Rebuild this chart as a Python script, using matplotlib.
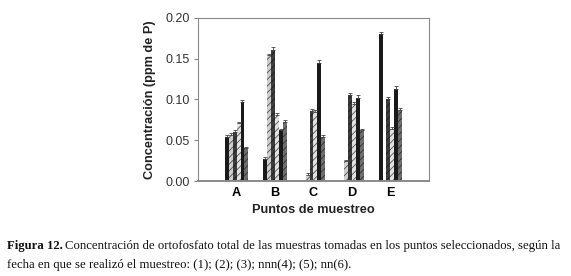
import numpy as np
import matplotlib
matplotlib.use("Agg")
import matplotlib.pyplot as plt

# ── Data ─────────────────────────────────────────────────
puntos = ["A", "B", "C", "D", "E"]
fecha1 = [0.054, 0.027, np.nan, np.nan, 0.180]
fecha2 = [0.057, 0.154, 0.008, 0.024, np.nan]
fecha3 = [0.060, 0.161, 0.086, 0.105, 0.100]
fecha4 = [0.071, 0.081, 0.085, 0.095, 0.064]
fecha5 = [0.097, 0.062, 0.145, 0.102, 0.113]
fecha6 = [0.040, 0.073, 0.054, 0.062, 0.087]
err1 = [0.002, 0.003, np.nan, np.nan, 0.003]
err2 = [0.002, 0.002, 0.002, 0.002, np.nan]
err3 = [0.002, 0.003, 0.002, 0.003, 0.003]
err4 = [0.002, 0.002, 0.002, 0.002, 0.002]
err5 = [0.002, 0.002, 0.003, 0.003, 0.003]
err6 = [0.002, 0.002, 0.002, 0.002, 0.002]

series = [fecha1, fecha2, fecha3, fecha4, fecha5, fecha6]
errors = [err1, err2, err3, err4, err5, err6]
fills = ["#1a1a1a", "#cfcfcf", "#3c3c3c", "#e2e2e2", "#1a1a1a", "#6e6e6e"]
hatches = [None, "/////", "/////", "/////", None, "/////"]
hatch_cols = [None, "#505050", "#1e1e1e", "#555555", None, "#333333"]

plt.rcParams["hatch.linewidth"] = 0.6

fig = plt.figure(figsize=(5.71, 2.76), dpi=100)
ax = fig.add_axes([0.347, 0.344, 0.404, 0.591])

x = np.arange(len(puntos))
w = 0.102
for i, (vals, errs) in enumerate(zip(series, errors)):
    pos = x + (i - 2.5) * w
    bars = ax.bar(pos, vals, width=w, color=fills[i], hatch=hatches[i],
                  linewidth=0, zorder=2)
    if hatch_cols[i]:
        for b in bars:
            b.set_edgecolor(hatch_cols[i])
    ax.errorbar(pos, vals, yerr=[np.zeros(len(errs)), errs], fmt="none",
                ecolor="#444444", elinewidth=0.6, capsize=1.6, capthick=0.6, zorder=3)

ax.set_xlim(-1, 5)
ax.set_ylim(0, 0.20)
ax.set_yticks([0.00, 0.05, 0.10, 0.15, 0.20])
ax.set_yticklabels(["0.00", "0.05", "0.10", "0.15", "0.20"])
ax.set_xticks(x)
ax.set_xticklabels(puntos, fontweight="bold", fontsize=9.2)
ax.tick_params(axis="x", length=0, pad=4)
ax.tick_params(axis="y", length=3, width=0.7, color="#808080", labelsize=9,
               labelcolor="#333333", pad=3)
for side in ["top", "right", "left"]:
    ax.spines[side].set_color("#8a8a8a")
    ax.spines[side].set_linewidth(0.8)
ax.spines["bottom"].set_color("#8a8a8a")
ax.spines["bottom"].set_linewidth(1.4)

ax.set_ylabel("Concentración (ppm de P)", fontsize=9.2, fontweight="bold",
              color="#222222", labelpad=7)
ax.set_xlabel("Puntos de muestreo", fontsize=9.2, fontweight="bold",
              color="#222222", labelpad=4)

for t in ax.get_xticklabels() + ax.get_yticklabels():
    t.set_family("Liberation Sans")
ax.yaxis.label.set_family("Liberation Sans")
ax.xaxis.label.set_family("Liberation Sans")

# ── Caption ──────────────────────────────────────────────
cap_font = dict(family="Liberation Serif", fontsize=9.2, color="#111111")
bold = fig.text(0.012, 0.098, "Figura 12.", fontweight="bold", **cap_font)
fig.canvas.draw()
bb = bold.get_window_extent(renderer=fig.canvas.get_renderer())
x2 = (bb.x1 + 2) / fig.bbox.width
fig.text(x2, 0.098, "Concentración de ortofosfato total de las muestras tomadas en los "
         "puntos seleccionados, según la", **cap_font)
fig.text(0.012, 0.028, "fecha en que se realizó el muestreo: (1); (2); (3); nnn(4); (5); nn(6).",
         **cap_font)

fig.savefig("out.png", dpi=100)
